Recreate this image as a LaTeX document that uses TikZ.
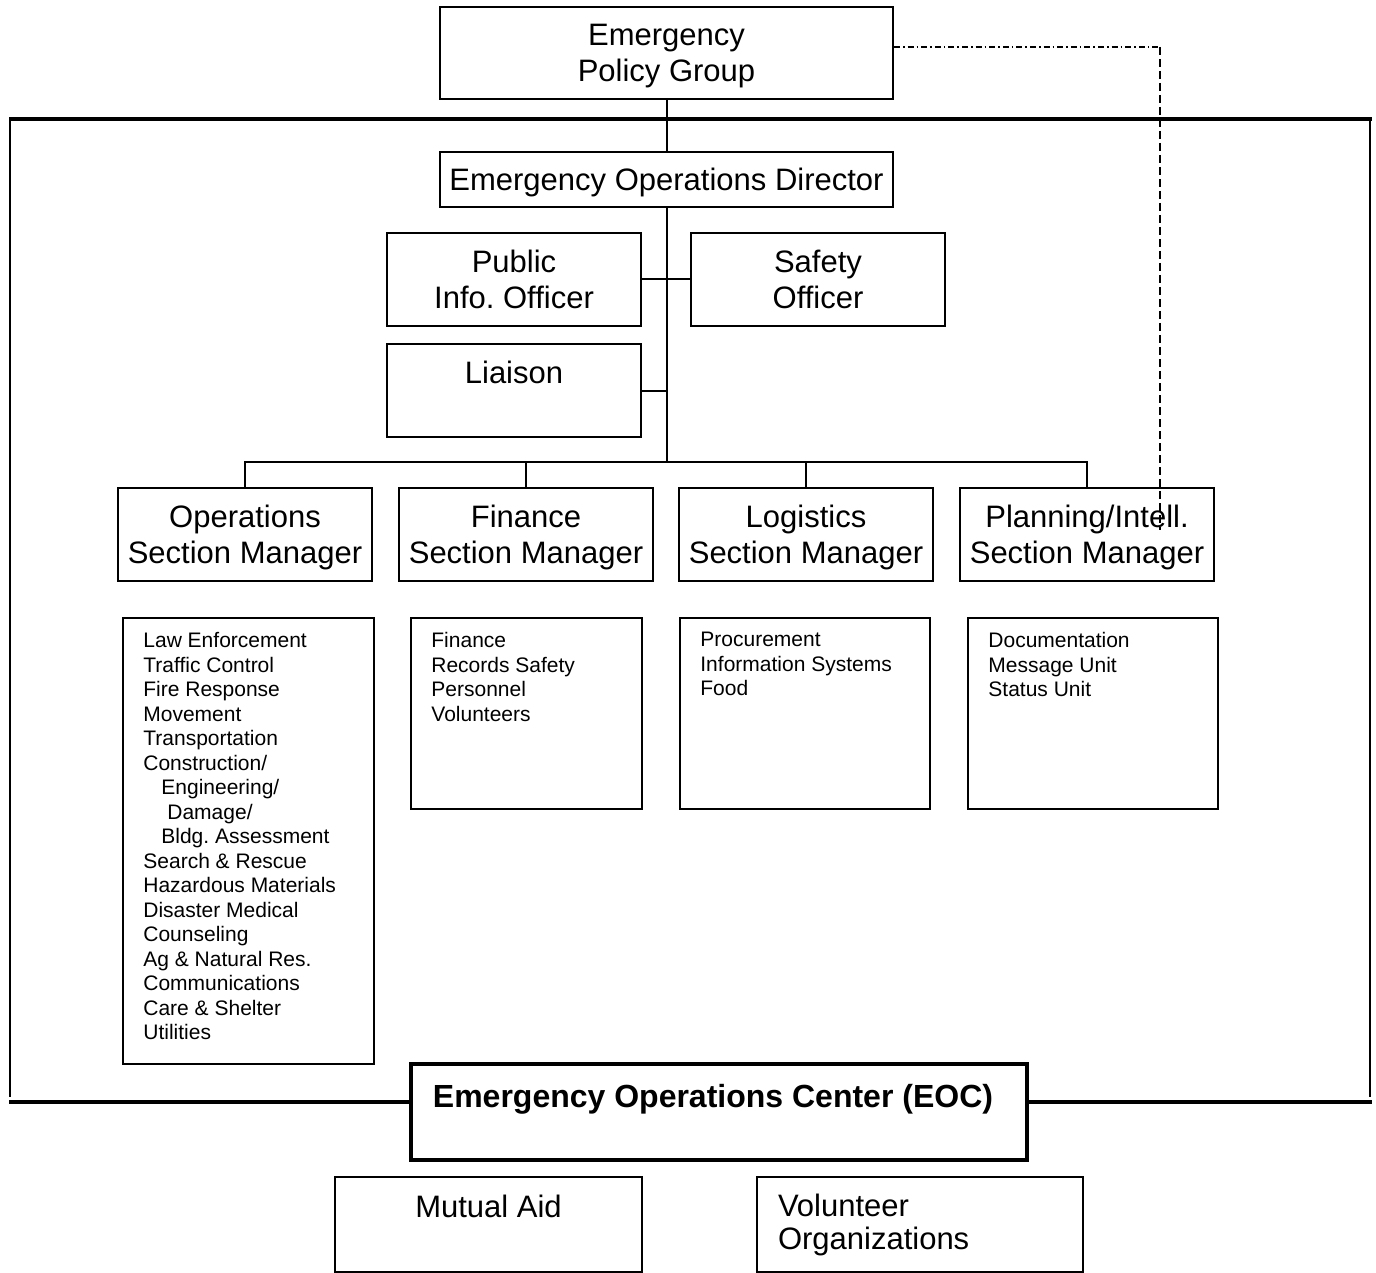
\documentclass[tikz,border=0pt]{standalone}
\usepackage{fontspec}
\setmainfont{Liberation Sans}
\usetikzlibrary{positioning}

\begin{document}
\frenchspacing
\begin{tikzpicture}[x=0.5pt,y=-0.5pt,
	box/.style={draw,line width=1pt,minimum width=127pt,minimum height=46.5pt,inner sep=0pt,text depth=0pt,align=center,font=\fontsize{15.5}{18}\selectfont},
	listbox/.style={draw,line width=1pt,inner sep=0pt,minimum width=125pt,minimum height=95.5pt},
	listtext/.style={inner sep=0pt,align=left,font=\fontsize{10.5}{12.25}\selectfont},
	link/.style={line width=1pt},
	frame/.style={line width=2pt}]
	\useasboundingbox (0,0) rectangle (1376,1273);

	% the EOC frame
	\draw[frame] (9,119) -- (1372,119);
	\draw[line width=1.3pt] (10,119) -- (10,1097);
	\draw[line width=1.3pt] (1370,119) -- (1370,1097);

	\node[box,minimum width=226.5pt,minimum height=46pt] (policy) at (666.5,53) {Emergency\\Policy Group};
	\node[box,minimum width=226.5pt,minimum height=27.5pt] (director) at (666.5,179.5) {Emergency Operations Director};
	\node[box] (pio) at (514,279.5) {Public\\Info. Officer};
	\node[box] (safety) at (818,279.5) {Safety\\Officer};
	\node[box] (liaison) at (514,390.5) {Liaison\\\strut};

	\node[box] (ops) at (245,534.5) {Operations\\Section Manager};
	\node[box] (finance) at (526,534.5) {Finance\\Section Manager};
	\node[box] (logistics) at (806,534.5) {Logistics\\Section Manager};
	\node[box] (planning) at (1087,534.5) {Planning/Intell.\\Section Manager};

	% section duties
	\node[listbox,minimum width=125.5pt,minimum height=223pt] (opsbox) at (248.5,841) {};
	\node[listtext,below right=7.5pt and 10.5pt of opsbox.north west] (opslist) {Law Enforcement\\Traffic Control\\Fire Response\\Movement\\Transportation\\Construction/\\\hspace*{9pt}Engineering/\\\hspace*{12pt}Damage/\\\hspace*{9pt}Bldg. Assessment\\Search \& Rescue\\Hazardous Materials\\Disaster Medical\\Counseling\\Ag \& Natural Res.\\Communications\\Care \& Shelter\\Utilities};
	\node[listbox,minimum width=115.5pt] (finbox) at (526.5,713.5) {};
	\node[listtext,below right=7.5pt and 10.5pt of finbox.north west] (finlist) {Finance\\Records Safety\\Personnel\\Volunteers};
	\node[listbox] (logbox) at (805,713.5) {};
	\node[listtext,below right=7.5pt and 10.5pt of logbox.north west] (loglist) {Procurement\\Information Systems\\Food};
	\node[listbox] (planbox) at (1093,713.5) {};
	\node[listtext,below right=7.5pt and 10.5pt of planbox.north west] (planlist) {Documentation\\Message Unit\\Status Unit};

	\node[box,line width=2pt,minimum width=308pt,minimum height=48pt,font=\fontsize{16}{16}\selectfont\bfseries] (eoc) at (719,1112) {Emergency Operations Center (EOC)\hspace*{6pt}\\\strut};
	\draw[frame] (9,1102) -- (eoc.west |- 0,1102);
	\draw[frame] (eoc.east |- 0,1102) -- (1372,1102);

	\node[box,minimum width=153.5pt,minimum height=47.5pt] (mutual) at (488.5,1224.5) {Mutual Aid\\\strut};
	\node[draw,line width=1pt,minimum width=163pt,minimum height=47.5pt,inner ysep=0pt,inner xsep=10.5pt,text width=142pt,align=left,font=\fontsize{15.5}{16.5}\selectfont] (volunteer) at (920,1224.5) {Volunteer\\Organizations};

	% lines of command
	\coordinate (hub) at (director.south |- 0,462);
	\draw[link] (policy) -- (director);
	\draw[link] (director) -- (hub);
	\draw[link] (pio) -- (safety);
	\draw[link] (liaison.east) -- (liaison.east -| hub);
	\draw[link] (ops.north) |- (hub) -| (planning.north);
	\foreach \s in {finance,logistics}
		\draw[link] (\s.north) -- (\s.north |- hub);

	\coordinate (pgtap) at ([yshift=3pt]policy.east);
	\coordinate (dashend) at (1160,530);
	\draw[line width=0.7pt,dash pattern=on 3pt off 1.5pt on 0.8pt off 1.5pt] (pgtap) -- (pgtap -| dashend);
	\draw[line width=0.7pt,dash pattern=on 4pt off 2pt] (pgtap -| dashend) -- (dashend);
\end{tikzpicture}
\end{document}
